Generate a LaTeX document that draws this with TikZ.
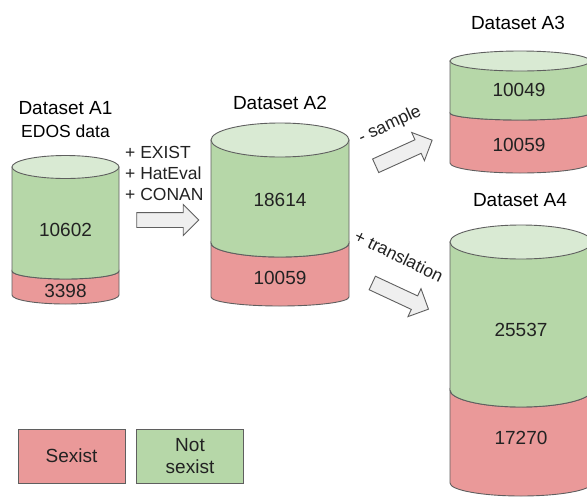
\documentclass[tikz,border=0pt]{standalone}
\usepackage{fontspec}
\setmainfont{Liberation Sans}
\usepackage{tikz}
\usetikzlibrary{shapes.arrows}
\definecolor{cylgreen}{HTML}{B6D7A8}
\definecolor{cyltopgreen}{HTML}{D9EAD3}
\definecolor{cylred}{HTML}{EA9999}
\definecolor{cyledge}{HTML}{5F5F5F}
\definecolor{arrowfill}{HTML}{EFEFEF}
\definecolor{inktext}{HTML}{222222}
\newcommand{\bigsize}{\fontsize{19}{22}\selectfont}
\newcommand{\smallsize}{\fontsize{17.5}{21}\selectfont}
\tikzstyle{segment}=[draw=cyledge, line width=0.9pt]
\tikzstyle{count}=[inner sep=0, text=inktext, font=\bigsize]
\tikzstyle{title}=[inner sep=0, font=\bigsize]
\tikzstyle{note}=[inner sep=0, font=\smallsize, text=inktext]
\tikzstyle{blockarrow}=[single arrow, draw=cyledge, fill=arrowfill, line width=0.9pt,
                        inner sep=7pt, single arrow head extend=8pt, minimum height=62pt]
\tikzstyle{legendbox}=[draw=cyledge, line width=0.9pt, minimum width=107pt, minimum height=54pt,
                       align=center, font=\bigsize, text=inktext, inner sep=0]
% #1 centre x, #2 half width, #3 top y, #4 top radius,
% #5 split y, #6 split radius, #7 bottom y, #8 bottom radius
\newcommand{\datacyl}[8]{%
    \draw[segment, fill=cylred] (#1-#2,#5) arc[start angle=180, end angle=360, x radius=#2pt, y radius=#6pt]
        -- (#1+#2,#7) arc[start angle=0, end angle=-180, x radius=#2pt, y radius=#8pt] -- cycle;
    \draw[segment, fill=cylgreen] (#1-#2,#3) -- (#1-#2,#5)
        arc[start angle=180, end angle=360, x radius=#2pt, y radius=#6pt] -- (#1+#2,#3) -- cycle;
    \draw[segment, fill=cyltopgreen] (#1,#3) ellipse[x radius=#2pt, y radius=#4pt];
}

\begin{document}
\begin{tikzpicture}[x=1pt, y=-1pt]
    \clip (0,0) rectangle (587,496);
    \fill[white] (0,0) rectangle (587,496);

    % datasets
    \datacyl{65.5}{53.5}{167}{11.5}{271}{8}{295}{9}
    \datacyl{280}{69}{140}{17}{243}{14}{297}{9}
    \datacyl{520}{70}{61}{10}{113}{7}{163}{10}
    \datacyl{521}{71}{242}{17}{390}{17}{483}{13}

    \node[title] (a1title) at (65.5,108) {Dataset A1};
    \node[note, text=black] (a1sub) at (65.5,131) {EDOS data};
    \node[title] (a2title) at (280,103) {Dataset A2};
    \node[title] (a3title) at (518,23) {Dataset A3};
    \node[title] (a4title) at (520,200) {Dataset A4};

    \node[count] (a1green) at (65.5,230) {10602};
    \node[count] (a1red) at (65.5,291) {3398};
    \node[count] (a2green) at (280,200) {18614};
    \node[count] (a2red) at (280,278) {10059};
    \node[count] (a3green) at (519,90) {10049};
    \node[count] (a3red) at (519,145) {10059};
    \node[count] (a4green) at (521,330) {25537};
    \node[count] (a4red) at (521,438) {17270};

    % steps between datasets
    \node[blockarrow] (merge) at (164,220) {};
    \node[blockarrow, rotate=24.4] (sample) at (400.5,154.5) {};
    \node[blockarrow, rotate=-25] (translate) at (397,294.5) {};

    \node[note, anchor=west] (exist) at (125,152) {+ EXIST};
    \node[note, anchor=west] (hateval) at (125,173) {+ HatEval};
    \node[note, anchor=west] (conan) at (125,194) {+ CONAN};
    \node[note, rotate=25] (samplelabel) at (390,125) {- sample};
    \node[note, rotate=-26] (translabel) at (399,256) {+ translation};

    % legend
    \node[legendbox, fill=cylred] (sexist) at (71.5,456) {Sexist};
    \node[legendbox, fill=cylgreen] (notsexist) at (190,456) {Not\\sexist};
\end{tikzpicture}
\end{document}
